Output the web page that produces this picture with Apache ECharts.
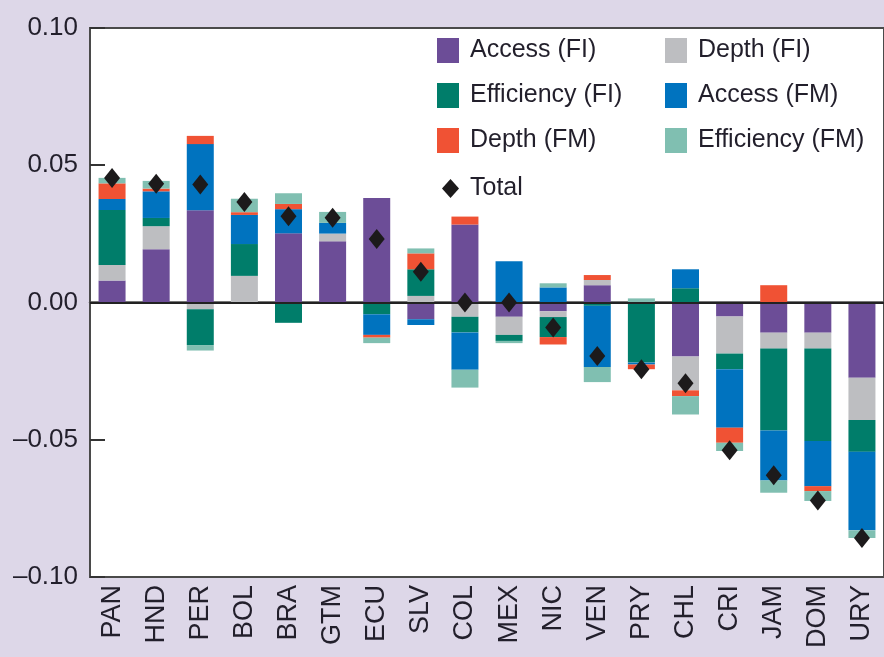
<!DOCTYPE html>
<html>
<head>
<meta charset="utf-8">
<script src="https://cdn.jsdelivr.net/npm/echarts@6/dist/echarts.min.js"></script>
<style>
html,body{margin:0;padding:0;background:#ddd7e8;}
#c{width:884px;height:657px;}
</style>
</head>
<body>
<div id="c"></div>
<script>
const categories = ['PAN','HND','PER','BOL','BRA','GTM','ECU','SLV','COL','MEX','NIC','VEN','PRY','CHL','CRI','JAM','DOM','URY'];
const accessFI =     [0.008, 0.0194, 0.0336, 0, 0.0252, 0.0223, 0.0381, -0.0061, 0.0284, -0.0052, -0.0032, 0.0063, 0, -0.0197, -0.0051, -0.011, -0.011, -0.0274];
const depthFI =      [0.0057, 0.0084, -0.0025, 0.0097, 0, 0.0028, 0, 0.0024, -0.0052, -0.0066, -0.0021, 0.0019, 0, -0.0123, -0.0135, -0.0058, -0.0058, -0.0154];
const efficiencyFI = [0.020, 0.003, -0.013, 0.0116, -0.0074, 0, -0.0043, 0.0097, -0.0057, -0.0022, -0.0073, -0.0012, -0.0219, 0.0052, -0.0057, -0.0298, -0.0337, -0.0116];
const accessFM =     [0.004, 0.0097, 0.0241, 0.0106, 0.0088, 0.0039, -0.0075, -0.0021, -0.0136, 0.015, 0.0055, -0.0223, -0.0007, 0.0069, -0.0213, -0.0182, -0.0164, -0.0286];
const depthFM =      [0.0057, 0.001, 0.003, 0.001, 0.0019, 0, -0.001, 0.0058, 0.0029, 0, -0.0027, 0.0018, -0.0017, -0.0021, -0.0055, 0.0063, -0.0018, 0];
const efficiencyFM = [0.002, 0.0028, -0.002, 0.0049, 0.0039, 0.004, -0.002, 0.0018, -0.0065, -0.0008, 0.0015, -0.0055, 0.0015, -0.0067, -0.003, -0.0045, -0.0036, -0.0028];
const total =        [0.0454, 0.0433, 0.043, 0.0366, 0.0314, 0.0309, 0.0231, 0.0112, 0.0, 0.0, -0.0091, -0.0195, -0.0243, -0.0294, -0.0538, -0.0629, -0.0721, -0.0858];
const yTicks = [-0.10, -0.05, 0.00, 0.05, 0.10];

const seriesDefs = [
  ['Access (FI)', accessFI, '#6c4d97'],
  ['Depth (FI)', depthFI, '#bdbec1'],
  ['Efficiency (FI)', efficiencyFI, '#007d6a'],
  ['Access (FM)', accessFM, '#0073bf'],
  ['Depth (FM)', depthFM, '#f05234'],
  ['Efficiency (FM)', efficiencyFM, '#80bfb1']
];
const textColor = '#221f2b';
const font = 'Liberation Sans';

const series = seriesDefs.map(function (d, i) {
  const s = {
    name: d[0], type: 'bar', stack: 'all', barWidth: 27,
    data: d[1], itemStyle: { color: d[2], opacity: 1 }
  };
  if (i === 0) {
    s.markLine = {
      silent: true, symbol: 'none', label: { show: false },
      lineStyle: { color: '#222', width: 2, type: 'solid', opacity: 1 },
      data: [{ yAxis: 0 }], z: 10
    };
  }
  return s;
});
series.push({
  name: 'Total', type: 'scatter', data: total, symbol: 'diamond',
  symbolSize: [16, 20], itemStyle: { color: '#1c1a1b', opacity: 1 }, z: 20
});

const legendText = { fontSize: 25, color: textColor, fontFamily: font, padding: [0, 0, 0, 6] };
const option = {
  backgroundColor: '#ddd7e8',
  animation: false,
  grid: { left: 90, top: 28, right: -7, bottom: 80, show: true, backgroundColor: '#ffffff', borderColor: '#4a4a4a', borderWidth: 2 },
  legend: [
    { orient: 'vertical', left: 432, top: 33, itemWidth: 22, itemHeight: 25, itemGap: 20, icon: 'rect', textStyle: legendText,
      data: ['Access (FI)', 'Efficiency (FI)', 'Depth (FM)'] },
    { orient: 'vertical', left: 660, top: 33, itemWidth: 22, itemHeight: 25, itemGap: 20, icon: 'rect', textStyle: legendText,
      data: ['Depth (FI)', 'Access (FM)', 'Efficiency (FM)'] },
    { orient: 'vertical', left: 437, top: 171, itemWidth: 17, itemHeight: 19, textStyle: legendText,
      data: [{ name: 'Total', icon: 'diamond' }] }
  ],
  xAxis: {
    type: 'category', data: categories,
    axisLine: { lineStyle: { color: '#4a4a4a', width: 2.5 } },
    axisTick: { show: false },
    axisLabel: { rotate: 90, fontSize: 27, color: textColor, fontFamily: font, margin: 8, interval: 0 }
  },
  yAxis: {
    type: 'value', min: -0.1, max: 0.1, interval: 0.05,
    axisLine: { show: true, lineStyle: { color: '#4a4a4a', width: 2 } },
    axisTick: { show: true, inside: true, length: 15, lineStyle: { color: '#333', width: 2 } },
    splitLine: { show: false },
    axisLabel: {
      fontSize: 26, color: textColor, fontFamily: font, margin: 12,
      formatter: function (v) {
        const t = yTicks.find(function (x) { return Math.abs(x - v) < 1e-9; });
        const val = t !== undefined ? t : v;
        return (val < 0 ? '\u2013' : '') + Math.abs(val).toFixed(2);
      }
    }
  },
  series: series
};
const chart = echarts.init(document.getElementById('c'));
chart.setOption(option);
</script>
</body>
</html>
